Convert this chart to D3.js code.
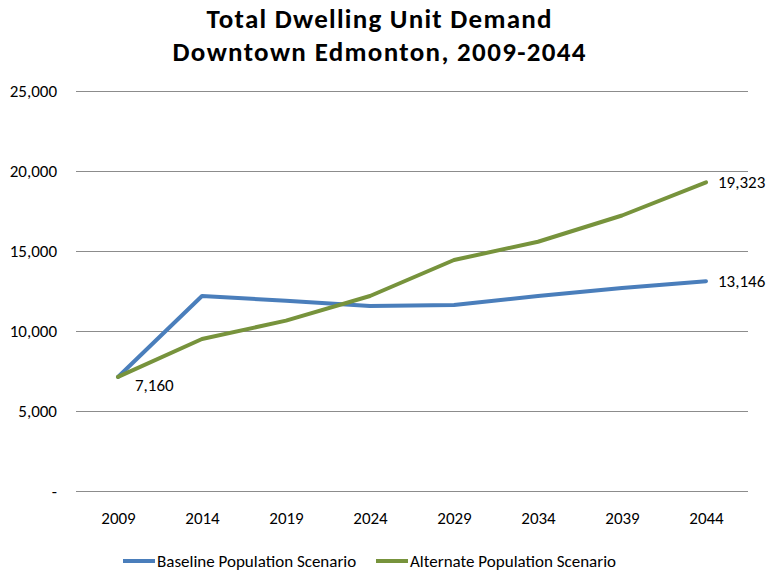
<!DOCTYPE html>
<html>
<head>
<meta charset="utf-8">
<script src="https://cdn.jsdelivr.net/npm/d3@7"></script>
<style>
  body { margin: 0; background: #fff; }
  svg { display: block; font-family: Carlito, Lato, "Open Sans", sans-serif; }
</style>
</head>
<body>
<svg id="chart" width="766" height="573"></svg>
<script>
// Projected total dwelling units, Downtown Edmonton
const years = ["2009", "2014", "2019", "2024", "2029", "2034", "2039", "2044"];
const baseline = [7160, 12220, 11920, 11590, 11650, 12220, 12720, 13146];
const alternate = [7160, 9530, 10680, 12220, 14470, 15610, 17250, 19323];
const yTicks = [0, 5000, 10000, 15000, 20000, 25000];
const seriesNames = ["Baseline Population Scenario", "Alternate Population Scenario"];
const seriesColors = ["#4a7ebb", "#77933c"];
const titleLines = ["Total Dwelling Unit Demand", "Downtown Edmonton, 2009-2044"];

const svg = d3.select("#chart");
const plot = { left: 76, right: 748, top: 91.5, bottom: 491.5 };
const font = "Carlito, Lato, 'Open Sans', sans-serif";
const fs = 17;

const x = d3.scalePoint().domain(years).range([plot.left, plot.right]).padding(0.5);
const y = d3.scaleLinear().domain([0, 25000]).range([plot.bottom, plot.top]);
const fmt = d3.format(",");

// title, two separate lines
const titleWidths = [345, 413];
svg.append("g").selectAll("text").data(titleLines).join("text")
  .attr("x", 379)
  .attr("y", (d, i) => 28 + i * 33)
  .attr("text-anchor", "middle")
  .attr("font-weight", "bold").attr("font-size", 27)
  .attr("textLength", (d, i) => titleWidths[i])
  .attr("lengthAdjust", "spacing")
  .text(d => d);

// gridlines
svg.append("g")
  .selectAll("line").data(yTicks).join("line")
  .attr("x1", plot.left).attr("x2", plot.right)
  .attr("y1", d => y(d)).attr("y2", d => y(d))
  .attr("stroke", "#8c8c8c").attr("stroke-width", 1);

// y axis labels
const yAxis = d3.axisLeft(y).tickValues(yTicks).tickSize(0).tickPadding(0)
  .tickFormat(d => d === 0 ? "-" : fmt(d));
svg.append("g")
  .attr("transform", `translate(57,0)`)
  .call(yAxis)
  .call(g => g.select(".domain").remove())
  .call(g => g.selectAll("text").attr("font-size", fs).attr("fill", "#000")
    .attr("font-family", font));

// x axis labels
const xAxis = d3.axisBottom(x).tickSize(0).tickPadding(0);
svg.append("g")
  .attr("transform", `translate(0,512)`)
  .call(xAxis)
  .call(g => g.select(".domain").remove())
  .call(g => g.selectAll("text").attr("font-size", fs).attr("fill", "#000")
    .attr("font-family", font));

// lines
const line = d3.line().x((d, i) => x(years[i])).y(d => y(d));
[baseline, alternate].forEach((vals, k) => {
  svg.append("path")
    .datum(vals)
    .attr("d", line)
    .attr("fill", "none")
    .attr("stroke", seriesColors[k])
    .attr("stroke-width", 4)
    .attr("stroke-linejoin", "round")
    .attr("stroke-linecap", "round");
});

// value labels
const last = years.length - 1;
const labels = [
  { v: baseline[0], xi: 0, dx: 17, dy: 14 },
  { v: alternate[last], xi: last, dx: 12, dy: 6 },
  { v: baseline[last], xi: last, dx: 12, dy: 6 }
];
svg.append("g").selectAll("text").data(labels).join("text")
  .attr("x", d => x(years[d.xi]) + d.dx)
  .attr("y", d => y(d.v) + d.dy)
  .attr("font-size", fs)
  .text(d => fmt(d.v));

// legend
const legendX = [123, 376];
const lg = svg.append("g").selectAll("g").data(seriesNames).join("g")
  .attr("transform", (d, i) => `translate(${legendX[i]},561)`);
lg.append("line").attr("x1", 0).attr("x2", 32).attr("y1", 0).attr("y2", 0)
  .attr("stroke", (d, i) => seriesColors[i]).attr("stroke-width", 4);
lg.append("text").attr("x", 34).attr("y", 6).attr("font-size", fs).text(d => d);
</script>
</body>
</html>
